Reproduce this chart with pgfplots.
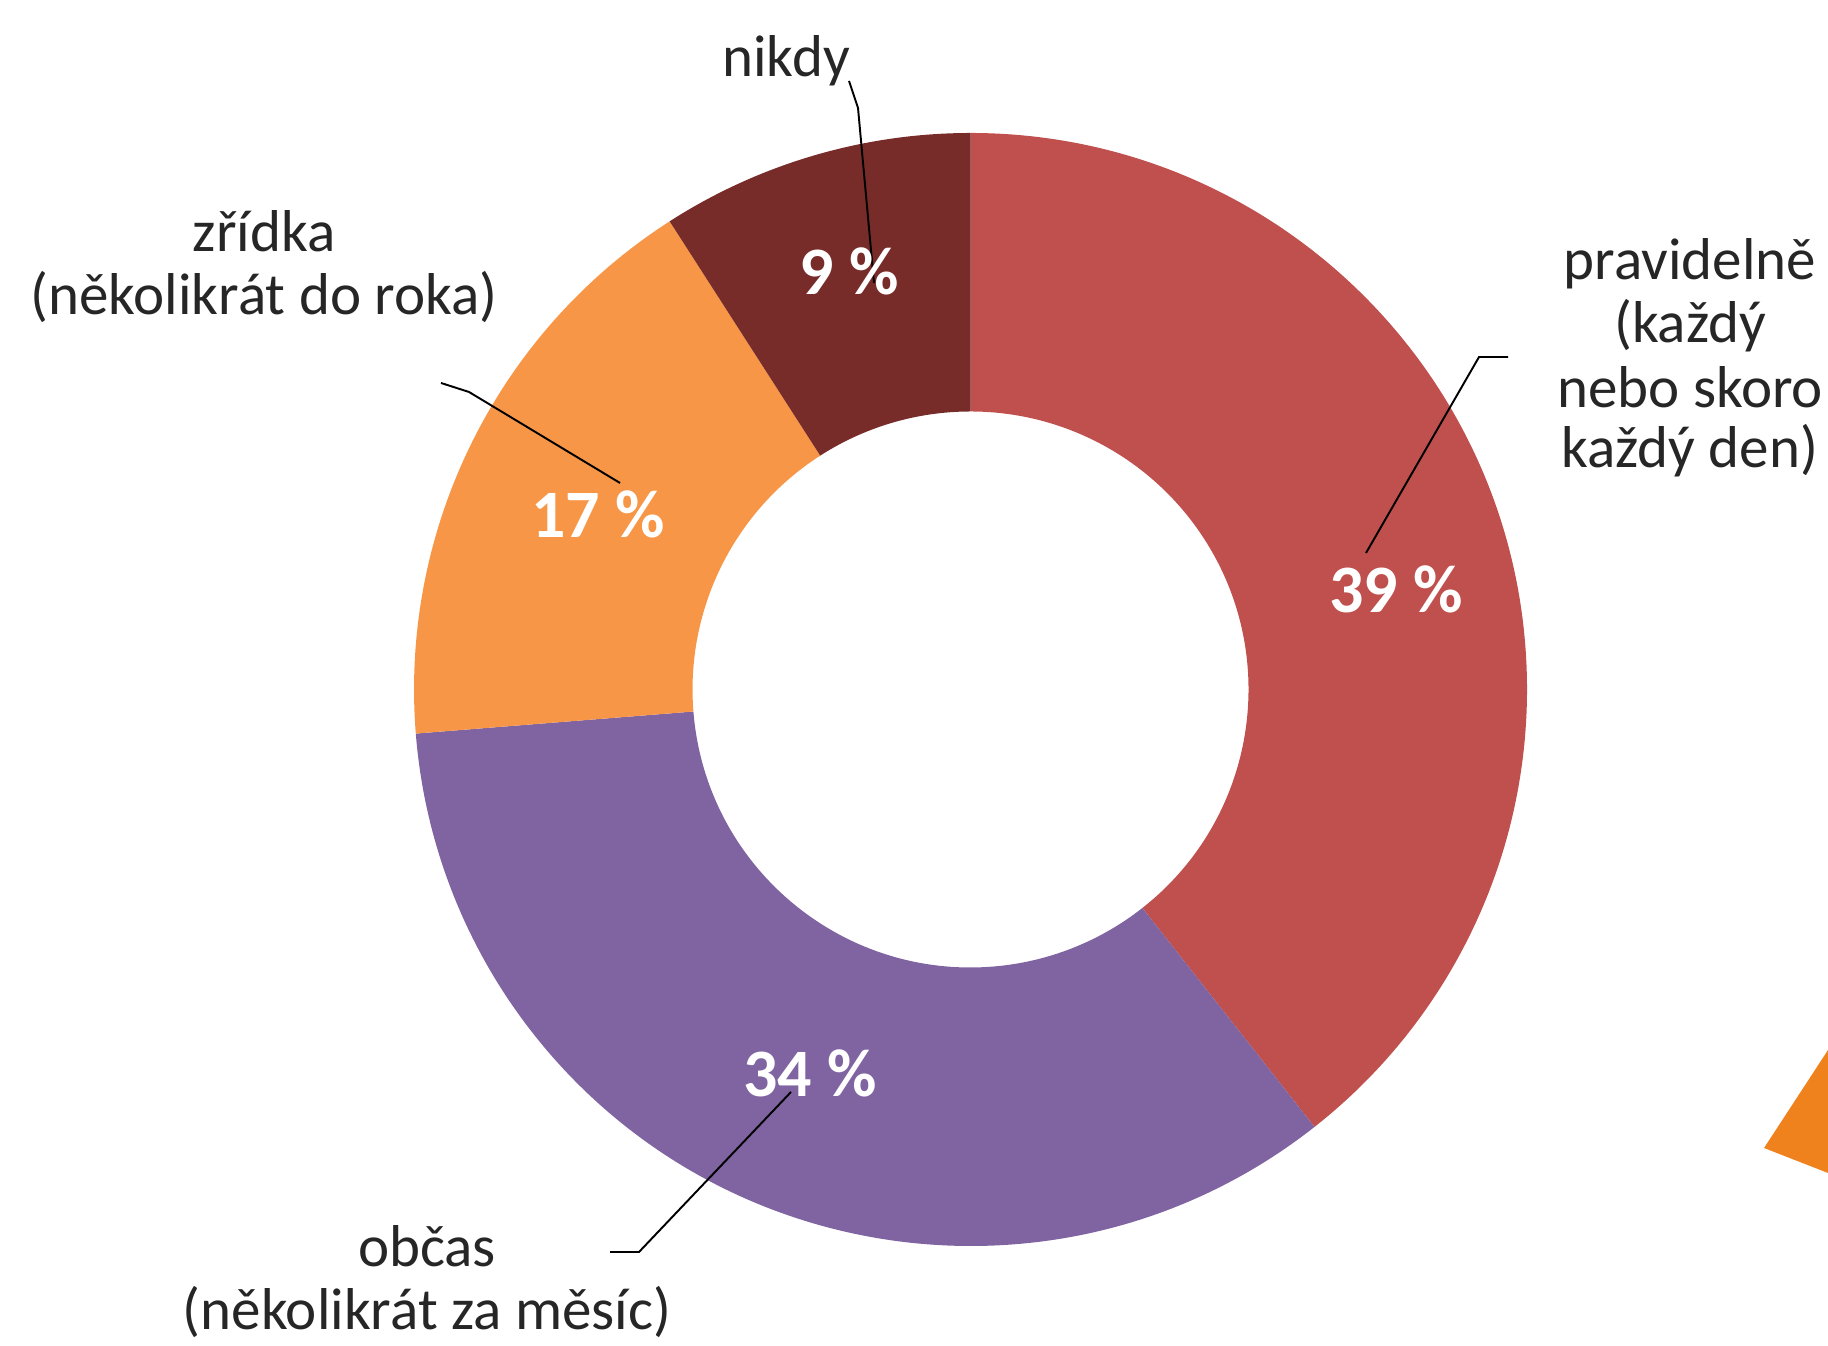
\documentclass[border=0pt]{standalone}
\usepackage{pgfplots}
\pgfplotsset{compat=1.18}
\usepackage{fontspec}
\setmainfont{Carlito}
\usetikzlibrary{calc}
\definecolor{cRed}{HTML}{C0504D}
\definecolor{cPurple}{HTML}{8064A2}
\definecolor{cOrange}{HTML}{F79646}
\definecolor{cDark}{HTML}{772C2A}
\definecolor{cTri}{HTML}{F0821E}
\definecolor{txt}{HTML}{262626}
\begin{document}
\begin{tikzpicture}
\useasboundingbox (0,0) rectangle (18.28cm,13.46cm);
\begin{axis}[at={(0,0)}, anchor=south west, width=18.28cm, height=13.46cm,
  scale only axis, xmin=0, xmax=1828, ymin=0, ymax=1346, hide axis, clip=false]
% donut: values in percent, clockwise from 12 o'clock
\pgfplotsextra{%
  \pgfmathsetmacro\tot{39+34+17+9}%
  \gdef\sA{90}%
  \foreach \v/\c in {39/cRed,34/cPurple,17/cOrange,9/cDark} {%
    \pgfmathsetmacro\eA{\sA-360*\v/\tot}%
    \fill[\c] ($(axis cs:970.5,656.5)+(\sA:55.65mm)$) arc[start angle=\sA, end angle=\eA, radius=55.65mm]
      -- ($(axis cs:970.5,656.5)+(\eA:27.8mm)$) arc[start angle=\eA, end angle=\sA, radius=27.8mm] -- cycle;
    \xdef\sA{\eA}%
  }%
}
% stray orange shape at right edge
\addplot[fill=cTri, draw=none] coordinates {(1828,296) (1764,198) (1828,173)} -- cycle;
% leader lines
\draw[black, line width=0.55pt] (axis cs:849,1265) -- (axis cs:858,1238) -- (axis cs:874,1063);
\draw[black, line width=0.55pt] (axis cs:1508,989) -- (axis cs:1479,989) -- (axis cs:1366,793);
\draw[black, line width=0.55pt] (axis cs:441,963) -- (axis cs:469,954) -- (axis cs:620,863);
\draw[black, line width=0.55pt] (axis cs:791,254) -- (axis cs:639,94) -- (axis cs:610,94);
% percentage labels
\tikzset{pct/.style={anchor=base, text=white, font=\bfseries\fontsize{19.3}{22}\selectfont, inner sep=0pt},
         lab/.style={anchor=base, text=txt, font=\fontsize{16.8}{19}\selectfont, inner sep=0pt}}
\node[pct] at (axis cs:1396,733) {39 \%};
\node[pct] at (axis cs:810,249) {34 \%};
\node[pct] at (axis cs:598,808) {17 \%};
\node[pct] at (axis cs:849,1051) {9 \%};
% category labels
\node[lab] at (axis cs:786,1269) {nikdy};
\node[lab] at (axis cs:264,1094) {zřídka};
\node[lab] at (axis cs:264,1031) {(několikrát do roka)};
\node[lab] at (axis cs:1690,1066) {pravidelně};
\node[lab] at (axis cs:1690,1003) {(každý};
\node[lab] at (axis cs:1690,938) {nebo skoro};
\node[lab] at (axis cs:1690,878) {každý den)};
\node[lab] at (axis cs:427,79) {občas};
\node[lab] at (axis cs:427,16) {(několikrát za měsíc)};
\end{axis}
\end{tikzpicture}
\end{document}
